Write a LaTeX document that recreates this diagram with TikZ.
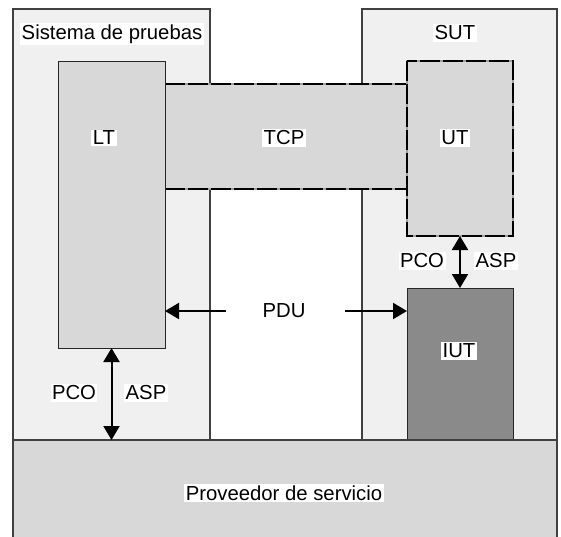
\documentclass[tikz,border=0pt]{standalone}
\usepackage{fontspec}
\setmainfont{Liberation Sans}
\usetikzlibrary{arrows.meta}
\definecolor{outerfill}{HTML}{F0F0F0}
\definecolor{innerfill}{HTML}{D8D8D8}
\definecolor{iutfill}{HTML}{8A8A8A}
\definecolor{edgegray}{HTML}{404040}
\definecolor{gapgray}{HTML}{A0A0A0}

\begin{document}
\begin{tikzpicture}[x=1pt,y=-1pt,
  region/.style={fill=outerfill, draw=edgegray, line width=1.3pt, anchor=north west, inner sep=0pt, outer sep=0pt},
  block/.style={fill=innerfill, draw=black!85, line width=1pt, anchor=north west, inner sep=0pt, outer sep=0pt},
  plain/.style={fill=innerfill, anchor=north west, inner sep=0pt, outer sep=0pt},
  dashbase/.style={draw=gapgray, line width=2pt},
  dashtop/.style={draw=black, line width=2pt, dash pattern=on 20pt off 3pt},
  lbl/.style={fill=white, inner sep=1.5pt, font=\fontsize{20.3}{23}\selectfont},
  arr/.style={-{Triangle[length=14pt,width=16pt]}, line width=2pt},
  dbl/.style={{Triangle[length=14pt,width=16pt]}-{Triangle[length=14pt,width=16pt]}, line width=2pt}
]
\useasboundingbox (0,0) rectangle (561,536);

% the two systems
\node[region, minimum width=197pt, minimum height=431pt] (sys) at (13,9) {};
\node[region, minimum width=195pt, minimum height=431pt] (sut) at (362,9) {};

% TCP band between the testers
\node[plain, minimum width=242pt, minimum height=105pt] (tcp) at (165,84) {};

% lower and upper testers
\node[block, minimum width=107pt, minimum height=287pt] (lt) at (58,61) {};
\node[plain, minimum width=106pt, minimum height=175pt] (ut) at (407,61) {};

% implementation under test
\node[block, fill=iutfill, minimum width=106pt, minimum height=152pt] (iut) at (407,288) {};

% service provider, open at the bottom
\node[plain, minimum width=544pt, minimum height=100pt] (prov) at (13,440) {};
\draw[draw=edgegray, line width=1.3pt] (prov.south west) -- (prov.north west) -- (prov.north east) -- (prov.south east);

% dashed outlines of the TCP band and the upper tester
\draw[dashbase] (tcp.north west) -- (tcp.north east) (tcp.south west) -- (tcp.south east);
\draw[dashtop] (tcp.north west) -- (tcp.north east) (tcp.south west) -- (tcp.south east);
\draw[dashbase] (ut.north west) rectangle (ut.south east);
\draw[dashtop] (ut.north west) rectangle (ut.south east);
\draw[draw=black!85, line width=1pt] (lt.north east) -- (lt.south east);

% labels
\node[lbl] (tsys) at (112,34) {Sistema de pruebas};
\node[lbl] (tsut) at (455,33) {SUT};
\node[lbl] (tlt) at (104,138) {LT};
\node[lbl] (ttcp) at (284,138) {TCP};
\node[lbl] (tut) at (455,138) {UT};
\node[lbl] (tiut) at (459,351) {IUT};
\node[lbl] (tpdu) at (284,311) {PDU};
\node[lbl] (pcoU) at (422,261) {PCO};
\node[lbl] (aspU) at (496,261) {ASP};
\node[lbl] (pcoL) at (74,393) {PCO};
\node[lbl] (aspL) at (146,393) {ASP};
\node[lbl] (tprov) at (284,493) {Proveedor de servicio};

% connectors
\coordinate (pduL) at (226,311);
\coordinate (pduR) at (345,311);
\draw[arr] (pduL) -- (pduL -| lt.east);
\draw[arr] (pduR) -- (pduR -| iut.west);
\draw[dbl] (ut.south) -- (iut.north);
\draw[dbl] (lt.south) -- (lt.south |- prov.north);
\end{tikzpicture}
\end{document}
